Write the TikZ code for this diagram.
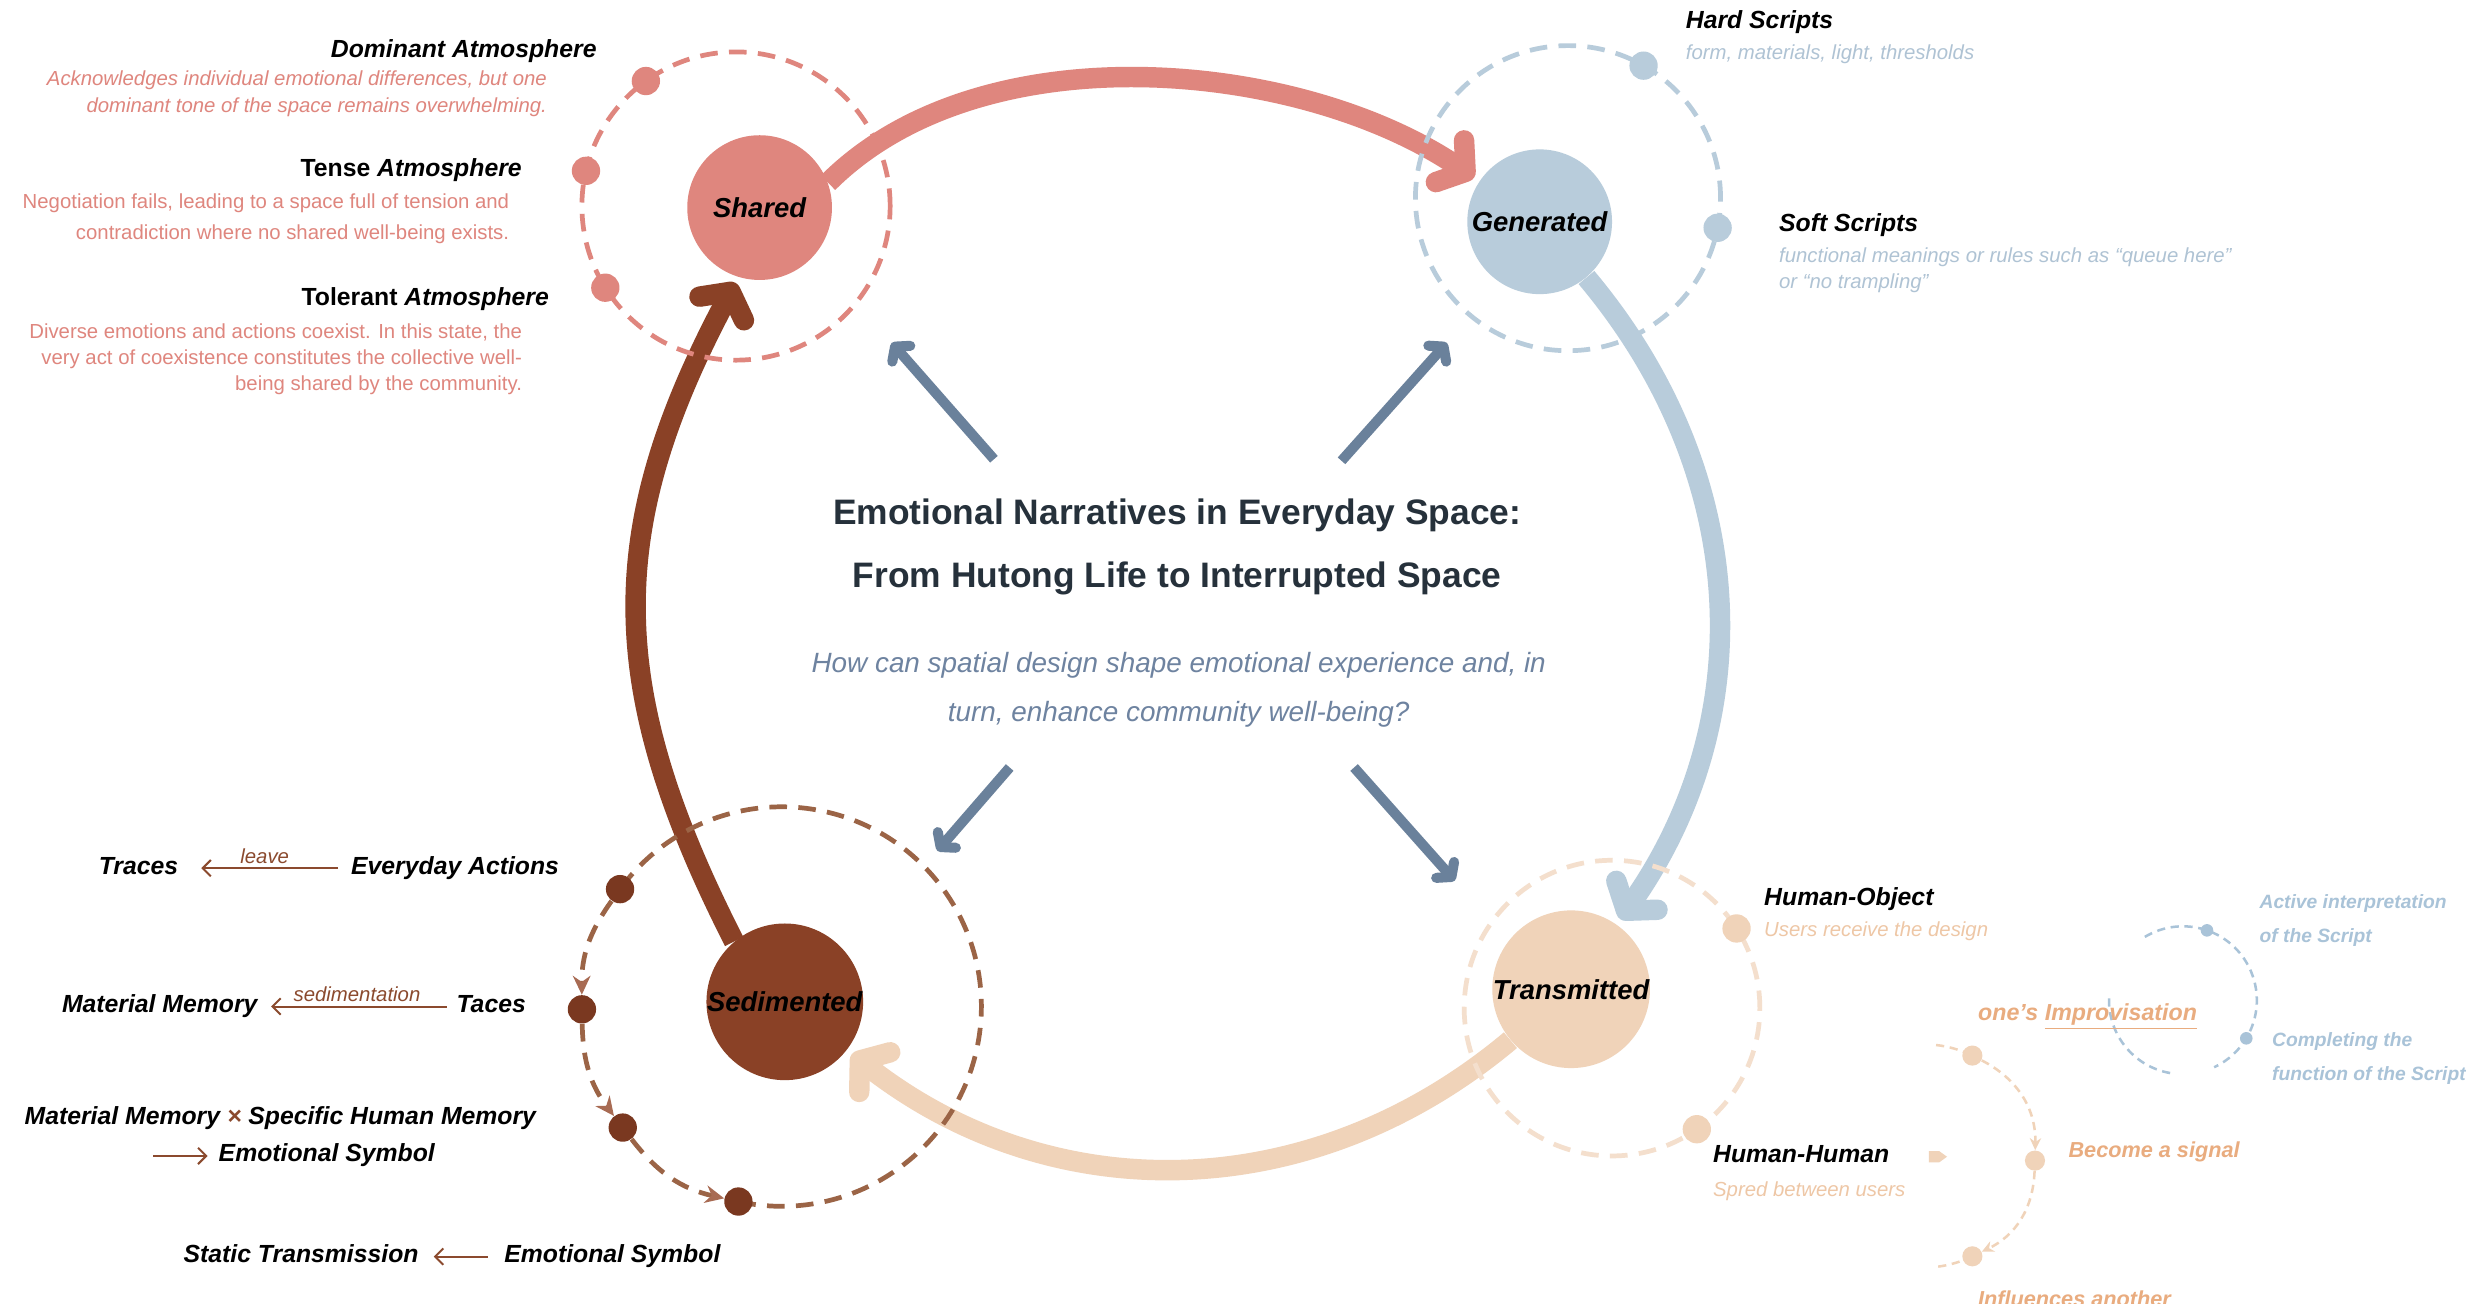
\documentclass[tikz,border=0pt]{standalone}
\usepackage{fontspec}
\setmainfont{Liberation Sans}
\usetikzlibrary{arrows.meta,calc,backgrounds}

\definecolor{rose}{HTML}{DF867E}
\definecolor{mist}{HTML}{B8CCDB}
\definecolor{mistText}{HTML}{AFC3D4}
\definecolor{rust}{HTML}{8A4126}
\definecolor{rustDot}{HTML}{7A3820}
\definecolor{rustLine}{HTML}{9B6446}
\definecolor{rustTip}{HTML}{A86B53}
\definecolor{sand}{HTML}{F0D3B9}
\definecolor{sandLine}{HTML}{F4DFCD}
\definecolor{sandText}{HTML}{EEC7A6}
\definecolor{apricot}{HTML}{E9AC7F}
\definecolor{slate}{HTML}{6A819B}
\definecolor{ink}{HTML}{26313B}
\definecolor{question}{HTML}{6E83A0}
\definecolor{sky}{HTML}{A9C3D8}
\definecolor{note}{HTML}{8B4A2E}

\tikzset{
  hubc/.style={circle,fill=#1,inner sep=0pt,minimum size=2.3cm,
    font=\fontsize{12.4}{14}\selectfont\bfseries\itshape},
  ring/.style={draw=#1,line width=0.075cm,dash pattern=on 0.28cm off 0.18cm},
  thinring/.style={draw=#1,line width=0.04cm,dash pattern=on 0.13cm off 0.09cm},
  bead/.style={circle,fill=#1,inner sep=0pt,minimum size=0.45cm},
  flowarr/.style={draw=#1,line width=0.325cm,shorten >=0.1cm,
    -{Straight Barb[round,length=0.3cm,width=0.8cm]}},
  probearr/.style={draw=slate,line width=0.16cm,
    -{Straight Barb[round,length=0.15cm,width=0.38cm]}},
  steparr/.style={ring=rustLine,-{Stealth[length=0.3cm,width=0.28cm,color=rustTip]}},
  lbl/.style={inner sep=0pt,text height=0.75em,text depth=0.22em,
    font=\fontsize{11.2}{13}\selectfont\bfseries\itshape},
  gl/.style={inner sep=0pt,text=#1,font=\fontsize{9.2}{12}\selectfont\itshape},
  hint/.style={draw=note,line width=0.9pt,-{Straight Barb[length=0.13cm,width=0.26cm]}},
  hinttext/.style={inner sep=0pt,text=note,font=\fontsize{9.2}{11}\selectfont\itshape},
  side/.style={inner sep=0pt,text=#1,font=\fontsize{9.8}{12}\selectfont\bfseries\itshape}
}

\begin{document}
\begin{tikzpicture}[x=0.025cm,y=0.025cm]
\useasboundingbox (0,0) rectangle (1568,-829);
\begin{scope}[on background layer]
\fill[white] (0,0) rectangle (1568,-829);
\end{scope}

% the four stages
\node (sh) at (483,-132)[hubc=rose] {Shared};
\node (gen) at (979,-141)[hubc=mist] {Generated};
\node (sed) at (499,-637)[hubc=rust] {Sedimented};
\node (trm) at (999,-629)[hubc=sand] {Transmitted};

% cycle between the stages
\begin{scope}[on background layer]
\draw[flowarr=rose] (sh.20) to[out=45,in=146,looseness=0.85] (gen.146);
\draw[flowarr=mist] (gen.-50) to[out=-50,in=55] (trm.55);
\draw[flowarr=sand] (trm.-140) to[out=-140,in=-38] (sed.-38);
\draw[flowarr=rust] (sed.130) to[out=117,in=-118,looseness=1.1] (sh.-107);
\end{scope}

% orbits
\coordinate (sh-o) at (468,-131);
\coordinate (gen-o) at (997,-126);
\coordinate (sed-o) at (497,-640);
\coordinate (trm-o) at (1025,-641);
\draw[ring=rose] (sh-o) circle (98);
\draw[ring=mist] (gen-o) circle (97);
\draw[ring=sandLine] (trm-o) circle (94);
\draw[ring=rustLine] ($(sed-o)+(-102.5:127)$) arc[start angle=-102.5,end angle=144,radius=127];

\node (sh-a) at ($(sh-o)+(125.8:98)$)[bead=rose] {};
\node (sh-b) at ($(sh-o)+(166.8:98)$)[bead=rose] {};
\node (sh-c) at ($(sh-o)+(212:98)$)[bead=rose] {};
\node (gen-a) at ($(gen-o)+(60.3:97)$)[bead=mist] {};
\node (gen-b) at ($(gen-o)+(-11.2:97)$)[bead=mist] {};
\node (trm-a) at ($(trm-o)+(32.6:94)$)[bead=sand] {};
\node (trm-b) at ($(trm-o)+(-55:94)$)[bead=sand] {};
\node (sed-a) at ($(sed-o)+(144:127)$)[bead=rustDot] {};
\node (sed-b) at ($(sed-o)+(180.8:127)$)[bead=rustDot] {};
\node (sed-c) at ($(sed-o)+(217.3:127)$)[bead=rustDot] {};
\node (sed-d) at ($(sed-o)+(257.5:127)$)[bead=rustDot] {};

\draw[steparr] (sed-a) to[bend right=18] (sed-b);
\draw[steparr] (sed-b) to[bend right=18] (sed-c);
\draw[steparr] (sed-c) to[bend right=20] (sed-d);

% from the question out to the stages
\coordinate (q1) at (632,-292); \coordinate (p1) at (567,-218);
\coordinate (q2) at (853,-293); \coordinate (p2) at (920,-218);
\coordinate (q3) at (642,-488); \coordinate (p3) at (596,-541);
\coordinate (q4) at (861,-488); \coordinate (p4) at (925,-560);
\draw[probearr] (q1) -- (p1);
\draw[probearr] (q2) -- (p2);
\draw[probearr] (q3) -- (p3);
\draw[probearr] (q4) -- (p4);

\node (ttl) at (748.5,-348)[text=ink,align=center,font=\fontsize{16}{28.5}\selectfont\bfseries]
  {Emotional Narratives in Everyday Space:\\From Hutong Life to Interrupted Space};
\node (ask) at (749.5,-438.5)[text=question,align=center,font=\fontsize{12.6}{22}\selectfont\itshape]
  {How can spatial design shape emotional experience and, in\\turn, enhance community well-being?};

% shared: atmospheres
\node (dom) at (379.6,-32.9)[lbl,anchor=east] {Dominant Atmosphere};
\node (dom-t) at (348,-59.4)[gl=rose,anchor=east,align=right,font=\fontsize{9.2}{12.1}\selectfont\itshape]
  {Acknowledges individual emotional differences, but one\\dominant tone of the space remains overwhelming.};
\node (ten) at (332,-108.5)[lbl,anchor=east] {{\upshape Tense} Atmosphere};
\node (ten-t) at (324,-139)[gl=rose,anchor=east,align=right,font=\fontsize{9.2}{14.3}\selectfont]
  {Negotiation fails, leading to a space full of tension and\\contradiction where no shared well-being exists.};
\node (tol) at (349.3,-190.3)[lbl,anchor=east] {{\upshape Tolerant} Atmosphere};
\node (tol-t) at (332.2,-228.2)[gl=rose,anchor=east,align=right,font=\fontsize{9.2}{11.7}\selectfont]
  {Diverse emotions and actions coexist. In this state, the\\very act of coexistence constitutes the collective well-\\being shared by the community.};

% generated: scripts
\node (hard) at (1071.7,-14.4)[lbl,anchor=west] {Hard Scripts};
\node (hard-t) at (1071.7,-34.3)[gl=mistText,anchor=west] {form, materials, light, thresholds};
\node (soft) at (1131,-143.7)[lbl,anchor=west] {Soft Scripts};
\node (soft-t) at (1131,-172)[gl=mistText,anchor=west,align=left,font=\fontsize{9.2}{11.8}\selectfont\itshape]
  {functional meanings or rules such as “queue here”\\or “no trampling”};

% sedimented: chain of memory
\node (trc) at (113.6,-552)[lbl,anchor=east] {Traces};
\node (act) at (223,-552)[lbl,anchor=west] {Everyday Actions};
\draw[hint,shorten <=0.2cm,shorten >=0.36cm] (act) -- node[hinttext,above=0.06cm] {leave} (trc);
\node (mem) at (164,-640)[lbl,anchor=east] {Material Memory};
\node (tac) at (290,-640)[lbl,anchor=west] {Taces};
\draw[hint,shorten <=0.15cm,shorten >=0.21cm] (tac) -- node[hinttext,above=0.06cm] {sedimentation} (mem);
\node (mix) at (15.4,-711)[lbl,anchor=west] {Material Memory {\color{note}×} Specific Human Memory};
\node (sym) at (138.8,-735)[lbl,anchor=west] {Emotional Symbol};
\coordinate (mix-in) at (97.4,-735);
\draw[hint,shorten >=0.17cm] (mix-in) -- (sym);
\node (stat) at (266.4,-799)[lbl,anchor=east] {Static Transmission};
\node (sym2) at (320.4,-799)[lbl,anchor=west] {Emotional Symbol};
\draw[hint,shorten <=0.26cm,shorten >=0.235cm] (sym2) -- (stat);

% transmitted: two channels
\node (hob) at (1121.5,-571.8)[lbl,anchor=west] {Human-Object};
\node (hob-t) at (1121.5,-592)[gl=sandText,anchor=west] {Users receive the design};
\node (hhu) at (1089,-735.5)[lbl,anchor=west] {Human-Human};
\node (hhu-t) at (1089,-757.7)[gl=sandText,anchor=west] {Spred between users};
\coordinate (nudge) at (1232.5,-735.5);
\fill[sand] (nudge) ++(-6,3.6) -- ++(6.5,0) -- ++(5,-3.6) -- ++(-5,-3.6) -- ++(-6.5,0) -- cycle;

% improvisation loop
\coordinate (im-o) at (1223,-735);
\node (im-a) at ($(im-o)+(64:71)$)[circle,fill=sand,inner sep=0pt,minimum size=0.32cm] {};
\node (im-b) at ($(im-o)+(-2.4:71)$)[circle,fill=sand,inner sep=0pt,minimum size=0.32cm] {};
\node (im-c) at ($(im-o)+(-64:71)$)[circle,fill=sand,inner sep=0pt,minimum size=0.32cm] {};
\draw[thinring=sand] ($(im-o)+(83.5:71)$) arc[start angle=83.5,end angle=64,radius=71];
\draw[thinring=sand] ($(im-o)+(-64:71)$) arc[start angle=-64,end angle=-83,radius=71];
\draw[thinring=sand,-{Stealth[length=0.19cm,width=0.18cm]}] (im-a) to[bend left=32] (im-b);
\draw[thinring=sand,-{Stealth[length=0.19cm,width=0.18cm]}] (im-b) to[bend left=31] (im-c);

\coordinate (sc-o) at (1388,-636);
\draw[thinring=sky] ($(sc-o)+(121:47)$) arc[start angle=121,end angle=-65,radius=47];
\draw[thinring=sky] ($(sc-o)+(-100:47)$) arc[start angle=-100,end angle=-184,radius=47];
\node (sc-a) at ($(sc-o)+(71:47)$)[circle,fill=sky,inner sep=0pt,minimum size=0.2cm] {};
\node (sc-b) at ($(sc-o)+(-31:47)$)[circle,fill=sky,inner sep=0pt,minimum size=0.2cm] {};

\node (imp) at (1257.5,-646.4)[anchor=west,inner sep=0pt,text=apricot,font=\fontsize{10.5}{12}\selectfont\bfseries\itshape]
  {one’s \underline{Improvisation}};
\node (sig) at (1315,-732.3)[side=apricot,anchor=west] {Become a signal};
\node (inf) at (1257.5,-831)[side=apricot,anchor=base west] {Influences another};
\node (actv) at (1436.5,-585.3)[side=sky,anchor=west,align=left,font=\fontsize{8.7}{15.6}\selectfont\bfseries\itshape]
  {Active interpretation\\of the Script};
\node (comp) at (1444.5,-673)[side=sky,anchor=west,align=left,font=\fontsize{8.7}{15.2}\selectfont\bfseries\itshape]
  {Completing the\\function of the Script};

\end{tikzpicture}
\end{document}
